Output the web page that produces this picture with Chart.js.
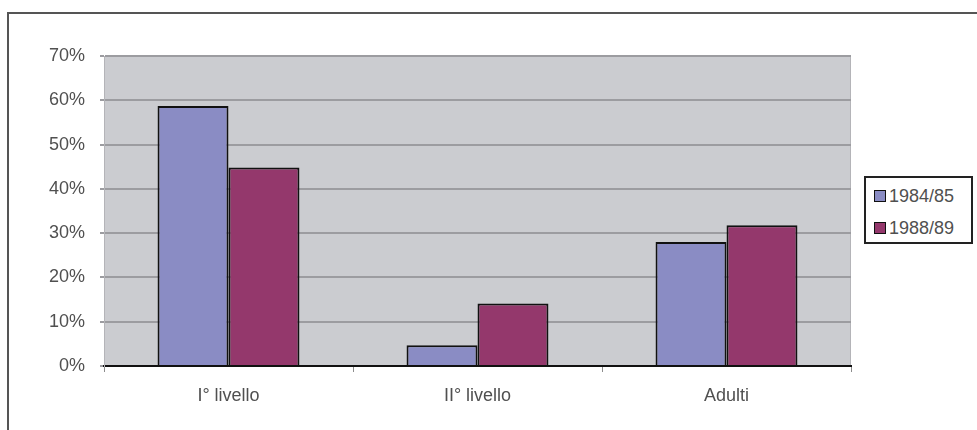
<!DOCTYPE html>
<html>
<head>
<meta charset="utf-8">
<script src="https://cdn.jsdelivr.net/npm/chart.js@4"></script>
<style>
  html, body { margin: 0; padding: 0; background: #fff; }
  #wrap { position: relative; width: 977px; height: 430px; overflow: hidden; }
  #frame {
    position: absolute; left: 7px; top: 12px; width: 1000px; height: 500px;
    border-left: 2px solid #555; border-top: 2px solid #555;
  }
  #legend {
    position: absolute; left: 864px; top: 176px; width: 105px; height: 64px;
    border: 2px solid #222; background: #fff;
    font-family: "Liberation Sans", Arial, sans-serif; font-size: 18px; color: #505050;
  }
  #legend .item { position: absolute; left: 8px; height: 20px; line-height: 20px; white-space: nowrap; }
  #legend .box {
    display: inline-block; width: 10px; height: 10px; border: 1px solid #111;
    margin-right: 3px; vertical-align: 0px;
  }
</style>
</head>
<body>
<div id="wrap">
  <div id="frame"></div>
  <canvas id="chartCanvas" width="977" height="430"></canvas>
  <div id="legend"></div>
</div>
<script>
// data
const categories = ["I° livello", "II° livello", "Adulti"];
const seriesNames = ["1984/85", "1988/89"];
const values8485 = [58.7, 4.7, 28.0];
const values8889 = [44.8, 14.1, 31.8];
const seriesColors = ["#8a8cc4", "#94386c"];
const yTicks = [0, 10, 20, 30, 40, 50, 60, 70];

const FONT = "'Liberation Sans', Arial, sans-serif";
const TEXT = "#505050";

// gray plot background + light right edge
const plotBg = {
  id: "plotBg",
  beforeDraw(chart) {
    const { ctx, chartArea: a } = chart;
    ctx.save();
    ctx.fillStyle = "#cbccd0";
    ctx.fillRect(a.left, a.top, a.right - a.left, a.bottom - a.top);
    ctx.strokeStyle = "#b4b4b8";
    ctx.lineWidth = 1;
    ctx.beginPath();
    ctx.moveTo(a.right - 0.5, a.top);
    ctx.lineTo(a.right - 0.5, a.bottom);
    ctx.stroke();
    ctx.restore();
  }
};

const ctx = document.getElementById("chartCanvas").getContext("2d");
const chart = new Chart(ctx, {
  type: "bar",
  data: {
    labels: categories,
    datasets: [
      { label: seriesNames[0], data: values8485, backgroundColor: seriesColors[0] },
      { label: seriesNames[1], data: values8889, backgroundColor: seriesColors[1] }
    ].map(d => Object.assign(d, {
      borderColor: "#111",
      borderWidth: 2,
      categoryPercentage: 0.57,
      barPercentage: 1.0
    }))
  },
  options: {
    responsive: false,
    animation: false,
    layout: { padding: { top: 56, right: 126, bottom: 0, left: 0 } },
    plugins: {
      legend: { display: false },
      tooltip: { enabled: false }
    },
    scales: {
      x: {
        offset: true,
        border: { display: true, color: "#111", width: 2 },
        grid: { display: true, drawOnChartArea: false, drawTicks: true, tickLength: 6, color: "#8c8c8c", lineWidth: 1 },
        ticks: { color: TEXT, font: { family: FONT, size: 18 }, padding: 13, maxRotation: 0 },
        afterFit(scale) { scale.height = 64; }
      },
      y: {
        min: 0,
        max: 70,
        afterBuildTicks(scale) { scale.ticks = yTicks.map(v => ({ value: v })); },
        border: { display: true, color: "#b4b4b8", width: 1 },
        grid: { color: "#9c9ca0", lineWidth: 2, tickLength: 4, drawTicks: true },
        ticks: {
          color: TEXT, font: { family: FONT, size: 18 }, padding: 15,
          callback: v => v + "%"
        },
        afterFit(scale) { scale.width = 104; }
      }
    }
  },
  plugins: [plotBg]
});

// html legend built from the datasets
const legend = document.getElementById("legend");
chart.data.datasets.forEach((ds, i) => {
  const item = document.createElement("div");
  item.className = "item";
  item.style.top = (8 + i * 32) + "px";
  item.innerHTML = '<span class="box" style="background:' + ds.backgroundColor + '"></span>' + ds.label;
  legend.appendChild(item);
});
</script>
</body>
</html>
